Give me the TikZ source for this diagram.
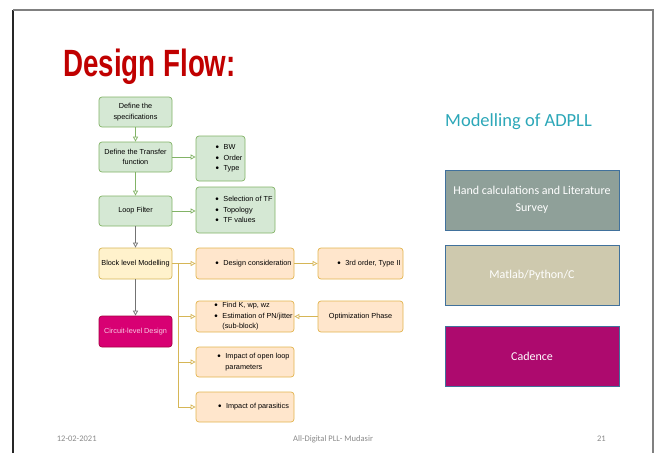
\documentclass[tikz,border=0pt]{standalone}
\usepackage{fontspec}
\setmainfont{Liberation Sans}
\newfontfamily\calibri{Carlito}
\usepackage{graphicx}
\usetikzlibrary{arrows.meta}

\definecolor{grfill}{HTML}{D5E8D4}
\definecolor{grline}{HTML}{82B366}
\definecolor{yefill}{HTML}{FFF2CC}
\definecolor{yeline}{HTML}{D6B656}
\definecolor{orfill}{HTML}{FFE6CC}
\definecolor{orline}{RGB}{226,180,78}
\definecolor{mgfill}{HTML}{D80073}
\definecolor{mgline}{HTML}{A50040}
\definecolor{titlered}{HTML}{C00000}
\definecolor{tealtext}{RGB}{44,167,184}
\definecolor{footgray}{RGB}{137,137,137}
\definecolor{slideline}{HTML}{41719C}
\definecolor{handfill}{RGB}{143,160,153}
\definecolor{matfill}{RGB}{206,201,174}
\definecolor{cadfill}{RGB}{173,10,110}

\newcommand{\bdot}{\raisebox{-0.25ex}{\scalebox{1.35}{\textbullet}}}
\newcommand{\bi}{\hspace*{17pt}\bdot\hspace{4.5pt}}
\newcommand{\bc}{\hspace*{17pt}\phantom{\bdot}\hspace{4.5pt}}

\begin{document}
\begin{tikzpicture}[x=1pt, y=-1pt,
    flow/.style={rectangle, rounded corners=3pt, line width=0.7pt, minimum width=73pt, minimum height=30pt, inner sep=1pt, align=center, font=\fontsize{7.3}{10.5}\selectfont},
    greenbox/.style={flow, fill=grfill, draw=grline},
    yellowbox/.style={flow, fill=yefill, draw=yeline},
    orangebox/.style={flow, fill=orfill, draw=orline, align=left},
    magentabox/.style={flow, fill=mgfill, draw=mgline, text=white!80!mgfill},
    arr/.style={line width=0.7pt, -{Triangle[open, length=5pt, width=5pt]}},
    garrow/.style={arr, draw=grline},
    yarrow/.style={arr, draw=yeline},
    grarrow/.style={arr, draw=black!55},
    toolbox/.style={rectangle, draw=slideline, line width=0.9pt, minimum width=174pt, minimum height=60pt, text=white, align=center, font=\calibri\fontsize{12}{17}\selectfont},
    foot/.style={anchor=base west, inner sep=0, text=footgray, font=\calibri\fontsize{8.5}{10}\selectfont}]
    \useasboundingbox (0,0) rectangle (656,453);
    % slide frame
    \draw[black!85, line width=1.2pt] (13,453) -- (13,10);
    \draw[black!50, line width=1.2pt] (13,10) -- (653,10) -- (653,453);

    \node[anchor=base west, inner sep=0, text=titlered, font=\bfseries\fontsize{38}{40}\selectfont] (title) at (63,76.7) {\scalebox{0.73}[1]{Design Flow:}};

    % flow chart
    \node[greenbox] (spec) at (135.5,112) {Define the\\specifications};
    \node[greenbox] (tf) at (135.5,157) {Define the Transfer\\function};
    \node[greenbox] (lf) at (135.5,211) {Loop Filter};
    \node[yellowbox, minimum height=31pt] (block) at (135.5,263.5) {Block level Modelling};
    \node[magentabox, minimum height=31pt] (circ) at (135.5,331.5) {Circuit-level Design};

    \node[greenbox, align=left, minimum width=49pt, minimum height=45pt] (bw) at (220.5,158.5) {\bi BW\\\bi Order\\\bi Type};
    \node[greenbox, align=left, minimum width=79pt, minimum height=46pt] (sel) at (235.5,210) {\bi Selection of TF\\\bi Topology\\\bi TF values};

    \node[orangebox, minimum width=98pt, minimum height=31pt] (design) at (245,263.5) {\bi Design consideration};
    \node[orangebox, minimum width=85pt, minimum height=31pt] (third) at (360.5,263.5) {\bi 3rd order, Type II};
    \node[orangebox, minimum width=98pt, minimum height=31pt, inner ysep=0pt] (findk) at (245,316.5) {\bi Find K, wp, wz\\\bi Estimation of PN/jitter\\\bc (sub-block)};
    \node[orangebox, minimum width=85pt, minimum height=31pt, align=center] (opt) at (360.5,316.5) {Optimization Phase};
    \node[orangebox, minimum width=98pt, minimum height=30pt] (openloop) at (245,362) {\bi Impact of open loop\\\bc parameters};
    \node[orangebox, minimum width=98pt, minimum height=30pt] (paras) at (245,407) {\bi Impact of parasitics};

    \coordinate (trunk) at (178,263.5);

    \draw[garrow] (spec) -- (tf);
    \draw[garrow] (tf) -- (lf);
    \draw[garrow] (tf.east) -- (tf.east -| bw.west);
    \draw[garrow] (lf.east) -- (lf.east -| sel.west);
    \draw[grarrow] (lf) -- (block);
    \draw[grarrow] (block) -- (circ);
    \draw[yarrow] (block) -- (design);
    \draw[yarrow] (trunk) |- (findk.west);
    \draw[yarrow] (trunk) |- (openloop.west);
    \draw[yarrow] (trunk) |- (paras.west);
    \draw[yarrow] (design) -- (third);
    \draw[yarrow] (opt) -- (findk);

    % tools
    \node[anchor=base west, inner sep=0, text=tealtext, font=\calibri\fontsize{18.5}{20}\selectfont] (model) at (445,126.5) {Modelling of ADPLL};
    \node[toolbox, fill=handfill] (hand) at (532,200) {Hand calculations and Literature\\Survey};
    \node[toolbox, fill=matfill] (matlab) at (532,275) {Matlab/Python/C};
    \node[toolbox, fill=cadfill] (cadence) at (532,356) {Cadence};

    % footer
    \node[foot] (date) at (56.7,441) {12-02-2021};
    \node[foot] (name) at (293,441) {All-Digital PLL- Mudasir};
    \node[foot, anchor=base east] (page) at (606,441) {21};
\end{tikzpicture}
\end{document}
